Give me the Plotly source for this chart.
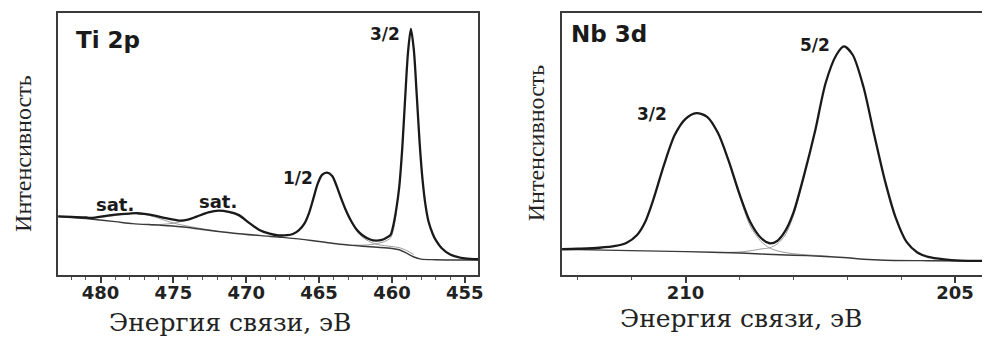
import plotly.graph_objects as go

# ---------------- Ti 2p data (binding energy, eV ; intensity, a.u.) ----------------
ti_env_ev = [482.9, 482.0, 481.0, 480.75, 480.0, 479.0, 478.0, 477.5, 477.0, 476.2, 475.5, 474.6,
             474.0, 473.4, 472.6, 471.9, 471.2, 470.5, 469.8, 469.1, 468.4, 467.8, 467.2, 466.8,
             466.4, 466.0, 465.7, 465.4, 465.1, 464.8, 464.46, 464.1, 463.8, 463.5, 463.2, 462.8,
             462.4, 462.0, 461.5, 461.1, 460.7, 460.4, 460.1, 459.9, 459.7, 459.5, 459.3, 459.1,
             458.9, 458.7, 458.5, 458.3, 458.1, 457.9, 457.7, 457.5, 457.2, 457.0, 456.6, 456.0,
             455.0, 454.0]
ti_env_int = [58.5, 58.0, 57.5, 57.0, 58.3, 60.3, 61.4, 61.7, 61.0, 59.0, 56.7, 54.4,
              55.3, 58.3, 62.5, 64.3, 63.0, 59.8, 52.0, 45.0, 41.3, 39.6, 39.8, 41.0,
              44.5, 51.5, 61.5, 76.0, 91.0, 100.0, 102.3, 99.0, 89.0, 77.0, 66.0, 54.0,
              45.0, 39.5, 35.5, 34.3, 35.0, 37.0, 40.0, 50.0, 66.0, 88.0, 125.0, 175.0,
              222.0, 245.7, 225.0, 180.0, 132.0, 95.0, 70.0, 54.0, 41.0, 35.0, 27.0, 20.5,
              16.5, 15.7]

ti_bg_ev = [482.9, 481.0, 479.0, 477.8, 476.0, 474.5, 473.0, 471.0, 469.0, 467.5, 466.0, 465.0,
            464.0, 463.0, 462.0, 461.0, 460.0, 459.5, 459.0, 458.5, 458.0, 457.0, 454.0]
ti_bg_int = [58.5, 56.3, 53.3, 51.3, 49.8, 48.2, 45.5, 42.0, 39.3, 37.6, 35.3, 33.5,
             31.5, 30.0, 28.7, 27.7, 26.5, 25.2, 21.8, 18.0, 15.9, 15.3, 15.0]

ti_sat1_ev = [482.9, 482.0, 481.0, 480.0, 479.0, 478.2, 477.6, 477.0, 476.2, 475.4, 474.6, 473.8, 473.0, 472.0]
ti_sat1_int = [58.5, 57.9, 57.3, 57.6, 59.4, 61.0, 61.5, 60.6, 57.6, 53.6, 50.5, 48.2, 46.2, 43.8]

ti_sat2_ev = [476.6, 476.0, 475.4, 474.8, 474.2, 473.6, 473.0, 472.4, 471.9, 471.3, 470.7, 470.1,
              469.5, 468.9, 468.3, 467.7]
ti_sat2_int = [50.0, 50.4, 51.0, 52.3, 54.5, 57.5, 60.8, 63.5, 64.2, 63.0, 60.3, 55.0,
               48.0, 43.5, 40.8, 38.6]

ti_p12_ev = [463.6, 463.2, 462.8, 462.4, 462.0, 461.5, 461.0, 460.5, 460.0, 459.5, 459.0, 458.5]
ti_p12_int = [80.0, 65.0, 53.0, 43.5, 37.5, 33.0, 30.5, 29.3, 28.4, 27.3, 24.5, 20.5]

ti_p32_ev = [462.6, 462.0, 461.5, 461.0, 460.5, 460.1, 459.9, 459.7]
ti_p32_int = [30.0, 29.8, 30.3, 31.5, 33.5, 37.0, 45.5, 62.0]

# ---------------- Nb 3d data ----------------
nb_env_ev = [212.3, 212.0, 211.6, 211.3, 211.1, 210.9, 210.75, 210.6, 210.4, 210.2, 210.0, 209.8,
             209.6, 209.4, 209.2, 209.0, 208.8, 208.6, 208.44, 208.3, 208.15, 208.0, 207.8, 207.6,
             207.4, 207.2, 207.06, 206.9, 206.7, 206.5, 206.3, 206.1, 205.9, 205.7, 205.5, 205.2,
             204.9, 204.5]
nb_env_int = [25.7, 26.2, 27.2, 29.0, 32.0, 40.0, 53.0, 75.0, 110.0, 140.0, 156.0, 161.7,
              158.0, 142.0, 114.0, 81.0, 53.0, 37.0, 31.7, 34.0, 44.0, 62.0, 100.0, 143.0,
              192.0, 220.0, 228.3, 220.0, 188.0, 140.0, 94.0, 57.0, 33.0, 22.5, 18.0, 15.5,
              14.4, 14.2]

nb_bg_ev = [212.3, 211.5, 210.5, 210.0, 209.0, 208.5, 208.0, 207.5, 207.0, 206.7, 206.3, 205.5, 204.5]
nb_bg_int = [25.7, 24.8, 23.8, 23.3, 22.0, 20.8, 19.8, 18.8, 17.2, 15.8, 14.8, 14.3, 14.0]

nb_p32_ev = [209.2, 209.0, 208.8, 208.6, 208.44, 208.25, 208.0, 207.7, 207.3]
nb_p32_int = [113.0, 79.0, 49.0, 33.5, 27.0, 23.5, 21.3, 20.0, 18.5]

nb_p52_ev = [209.4, 209.0, 208.8, 208.6, 208.44, 208.3, 208.15, 208.0, 207.8]
nb_p52_int = [22.3, 23.0, 24.2, 26.0, 27.2, 31.0, 40.0, 59.0, 99.0]

# ---------------- labels ----------------
ti_tick_vals = [480, 475, 470, 465, 460, 455]
nb_tick_vals = [210, 205]
x_title = "Энергия связи, эВ"
y_title = "Интенсивность"

ENV = dict(color="#1a1a1a", width=2.3)
BG = dict(color="#3a3a3a", width=1.4)
COMP = dict(color="#9a9a9a", width=1.0)

fig = go.Figure()

def add(x, y, line, xa, ya):
    fig.add_trace(go.Scatter(x=x, y=y, mode="lines",
                             line=dict(**line, shape="spline", smoothing=0.8),
                             xaxis=xa, yaxis=ya, showlegend=False, hoverinfo="skip"))

# Ti panel
add(ti_sat1_ev, ti_sat1_int, COMP, "x", "y")
add(ti_sat2_ev, ti_sat2_int, COMP, "x", "y")
add(ti_p12_ev, ti_p12_int, COMP, "x", "y")
add(ti_p32_ev, ti_p32_int, COMP, "x", "y")
add(ti_bg_ev, ti_bg_int, BG, "x", "y")
add(ti_env_ev, ti_env_int, ENV, "x", "y")

# Nb panel
add(nb_p32_ev, nb_p32_int, COMP, "x2", "y2")
add(nb_p52_ev, nb_p52_int, COMP, "x2", "y2")
add(nb_bg_ev, nb_bg_int, BG, "x2", "y2")
add(nb_env_ev, nb_env_int, ENV, "x2", "y2")

W, H = 987, 338
top_px, bot_px = 12.7, 275.0
ydom = [(H - bot_px) / H, (H - top_px) / H]

tickfont = dict(family="DejaVu Sans", size=18, color="#222", weight="bold")
axcol = "#3a3a3a"

common_x = dict(showgrid=False, zeroline=False, showline=True, linecolor=axcol, linewidth=2,
                ticks="outside", ticklen=6, tickwidth=1.5, tickcolor=axcol, tickfont=tickfont,
                minor=dict(dtick=1, ticks="outside", ticklen=3, tickwidth=1.2, tickcolor="#555"),
                ticklabelstandoff=-6)
common_y = dict(showgrid=False, zeroline=False, showline=True, linecolor=axcol, linewidth=2,
                showticklabels=False, ticks="", range=[0, 262])

fig.update_layout(
    width=W, height=H, margin=dict(l=0, r=0, t=0, b=0),
    paper_bgcolor="white", plot_bgcolor="white",
    xaxis=dict(**common_x, domain=[58.3 / W, 480.5 / W], range=[482.92, 454.09],
               tickmode="array", tickvals=ti_tick_vals, ticktext=[str(v) for v in ti_tick_vals],
               mirror=True, anchor="y"),
    yaxis=dict(**common_y, domain=ydom, mirror=True, anchor="x"),
    xaxis2=dict(**common_x, domain=[565 / W, 1.0], range=[212.29, 204.5],
                tickmode="array", tickvals=nb_tick_vals, ticktext=[str(v) for v in nb_tick_vals],
                mirror=True, anchor="y2"),
    yaxis2=dict(**common_y, domain=ydom, mirror=False, anchor="x2"),
)

lab = dict(family="DejaVu Sans", color="#1a1a1a", weight="bold")
ann = [
    dict(text="Ti 2p", x=481.8, y=235, xref="x", yref="y", xanchor="left", yanchor="middle",
         font=dict(**lab, size=23)),
    dict(text="3/2", x=460.49, y=241, xref="x", yref="y", font=dict(**lab, size=17)),
    dict(text="1/2", x=466.47, y=97, xref="x", yref="y", font=dict(**lab, size=17)),
    dict(text="sat.", x=479.04, y=70, xref="x", yref="y", font=dict(**lab, size=18)),
    dict(text="sat.", x=471.93, y=73, xref="x", yref="y", font=dict(**lab, size=18)),
    dict(text="Nb 3d", x=212.17, y=241, xref="x2", yref="y2", xanchor="left", yanchor="middle",
         font=dict(**lab, size=23)),
    dict(text="5/2", x=207.6, y=230, xref="x2", yref="y2", font=dict(**lab, size=17)),
    dict(text="3/2", x=210.62, y=161, xref="x2", yref="y2", font=dict(**lab, size=17)),
    # axis titles
    dict(text=x_title, x=231 / W, y=(H - 322) / H, xref="paper", yref="paper",
         font=dict(family="DejaVu Serif", size=25, color="#222")),
    dict(text=x_title, x=745 / W, y=(H - 318) / H, xref="paper", yref="paper",
         font=dict(family="DejaVu Serif", size=25, color="#222")),
    dict(text=y_title, x=23 / W, y=(H - 153) / H, xref="paper", yref="paper", textangle=-90,
         font=dict(family="Liberation Serif", size=24, color="#222")),
    dict(text=y_title, x=539 / W, y=(H - 143) / H, xref="paper", yref="paper", textangle=-90,
         font=dict(family="Liberation Serif", size=24, color="#222")),
]
for a in ann:
    a.setdefault("showarrow", False)
    a.setdefault("xanchor", "center")
    a.setdefault("yanchor", "middle")
fig.update_layout(annotations=ann)

fig.write_html("out.html", config={"displayModeBar": False},
               post_script="document.body.style.margin='0';document.body.style.padding='0';")
